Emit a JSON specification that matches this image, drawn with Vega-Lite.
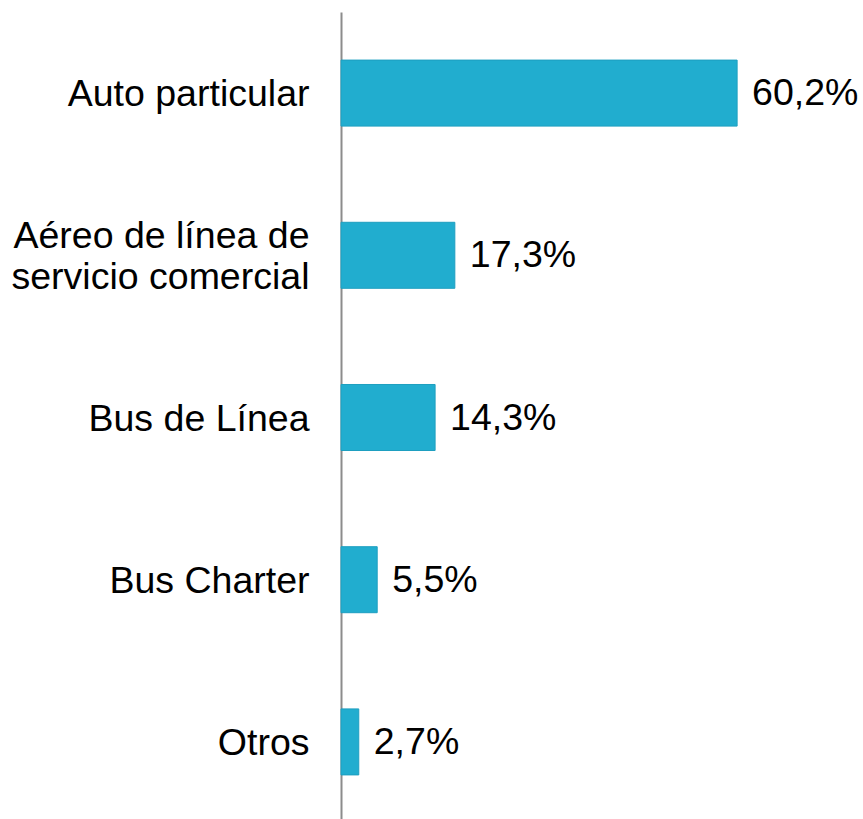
{
  "$schema": "https://vega.github.io/schema/vega-lite/v6.json",
  "autosize": "none",
  "width": 658,
  "height": 811,
  "padding": {"left": 341, "top": 12, "right": 0, "bottom": 0},
  "background": "white",
  "data": {
    "values": [
      {"modo": "Auto particular", "pct": 60.2, "etiqueta": "60,2%"},
      {"modo": "Aéreo de línea de|servicio comercial", "pct": 17.3, "etiqueta": "17,3%"},
      {"modo": "Bus de Línea", "pct": 14.3, "etiqueta": "14,3%"},
      {"modo": "Bus Charter", "pct": 5.5, "etiqueta": "5,5%"},
      {"modo": "Otros", "pct": 2.7, "etiqueta": "2,7%"}
    ]
  },
  "config": {
    "view": {"stroke": null},
    "font": "Liberation Sans"
  },
  "encoding": {
    "y": {
      "field": "modo",
      "type": "nominal",
      "sort": null,
      "scale": {"paddingInner": 0.593, "paddingOuter": 0.2965},
      "axis": {
        "title": null,
        "ticks": false,
        "domainColor": "#8c8c8c",
        "domainWidth": 2,
        "labelFont": "Liberation Sans",
        "labelFontSize": 37.5,
        "labelLineHeight": 41,
        "labelColor": "#000000",
        "labelPadding": 32,
        "labelLimit": 400,
        "labelOffset": {"condition": {"test": "indexof(datum.value, '|') >= 0", "value": -18}, "value": 2},
        "labelExpr": "split(datum.value, '|')"
      }
    },
    "x": {
      "field": "pct",
      "type": "quantitative",
      "scale": {"domain": [0, 100], "nice": false},
      "axis": null
    }
  },
  "layer": [
    {
      "mark": {"type": "bar", "color": "#21ADCF", "stroke": "#1E9FC0", "strokeWidth": 1}
    },
    {
      "mark": {"type": "text", "align": "left", "baseline": "middle", "dx": 15, "dy": 1, "fontSize": 37.5, "font": "Liberation Sans", "color": "#000000"},
      "encoding": {"text": {"field": "etiqueta"}}
    }
  ]
}
